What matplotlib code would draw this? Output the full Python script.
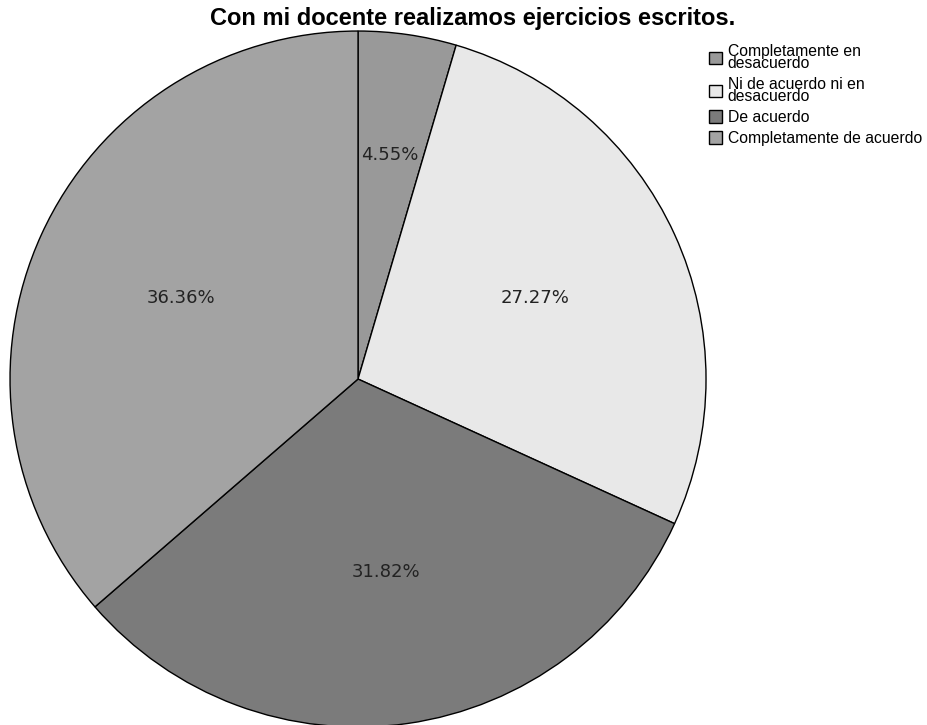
import matplotlib
matplotlib.use("Agg")
import matplotlib.pyplot as plt

categories = ["Completamente en\ndesacuerdo", "Ni de acuerdo ni en\ndesacuerdo",
              "De acuerdo", "Completamente de acuerdo"]
values = [4.55, 27.27, 31.82, 36.36]
colors = ["#999999", "#e8e8e8", "#7b7b7b", "#a3a3a3"]

fig = plt.figure(figsize=(9.28, 7.25), dpi=100)
ax = fig.add_axes([0.0108, -0.0028, 0.75, 0.96])
wedges, texts, autotexts = ax.pie(values, colors=colors, startangle=90, counterclock=False,
                                  autopct="%.2f%%", pctdistance=0.56,
                                  wedgeprops=dict(edgecolor="black", linewidth=1),
                                  textprops=dict(fontsize=13, color="#222222", family="DejaVu Sans"))
x, y = autotexts[0].get_position()
autotexts[0].set_position((x * 0.65 / 0.56, y * 0.65 / 0.56))
ax.set_aspect("equal")
ax.set_xlim(-1, 1)
ax.set_ylim(-1, 1)

fig.suptitle("Con mi docente realizamos ejercicios escritos.", x=0.509, y=0.99,
             fontsize=17, fontweight="bold", family="Liberation Sans")

leg = fig.legend(wedges, categories, loc="upper left", bbox_to_anchor=(0.757, 0.948),
                 frameon=False, prop=dict(family="Liberation Sans", size=11.3),
                 handlelength=0.85, handleheight=0.85, handletextpad=0.35,
                 labelspacing=0.38, borderaxespad=0)
for t in leg.get_texts():
    t.set_linespacing(0.75)

fig.savefig("out.png", dpi=100)
